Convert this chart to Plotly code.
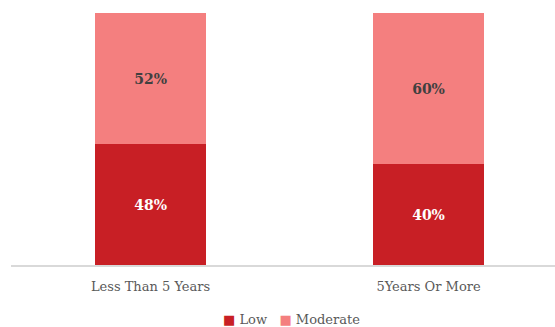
import plotly.graph_objects as go

categories = ["Less Than 5 Years", "5Years Or More"]
low = [48, 40]
moderate = [52, 60]
series_names = ["Low", "Moderate"]
series_colors = ["#C81F25", "#F47F7F"]

font_family = "DejaVu Serif"

fig = go.Figure()
fig.add_trace(go.Bar(
    x=categories, y=low, name=series_names[0],
    marker=dict(color=series_colors[0], line=dict(width=0)),
    text=[f"{v}%" for v in low], textposition="inside", insidetextanchor="middle",
    textfont=dict(family=font_family, size=14, color="white", weight="bold"),
    width=0.4, showlegend=False,
))
fig.add_trace(go.Bar(
    x=categories, y=moderate, name=series_names[1],
    marker=dict(color=series_colors[1], line=dict(width=0)),
    text=[f"{v}%" for v in moderate], textposition="inside", insidetextanchor="middle",
    textfont=dict(family=font_family, size=14, color="#404040", weight="bold"),
    width=0.4, showlegend=False,
))

# compact legend drawn as a single centred line of text
legend_text = "   ".join(
    f'<span style="color:{c}">■</span> {n}' for n, c in zip(series_names, series_colors)
)
fig.add_annotation(
    text=legend_text, xref="paper", yref="paper", x=0.516, y=-0.215,
    xanchor="center", yanchor="middle", showarrow=False,
    font=dict(family=font_family, size=13, color="#595959"),
)

fig.update_layout(
    barmode="stack",
    width=555, height=327,
    margin=dict(l=11, r=0, t=13, b=62, autoexpand=False),
    plot_bgcolor="white", paper_bgcolor="white",
    font=dict(family=font_family, size=13, color="#595959"),
    uniformtext=dict(minsize=8, mode="show"),
)
fig.update_xaxes(range=[-0.502, 1.455], showline=True, linecolor="#D9D9D9", linewidth=1.5,
                 ticks="", showgrid=False, ticklabelstandoff=9,
                 tickfont=dict(size=13, color="#595959"))
fig.update_yaxes(range=[0, 100], visible=False, showgrid=False)

fig.write_html("out.html")
